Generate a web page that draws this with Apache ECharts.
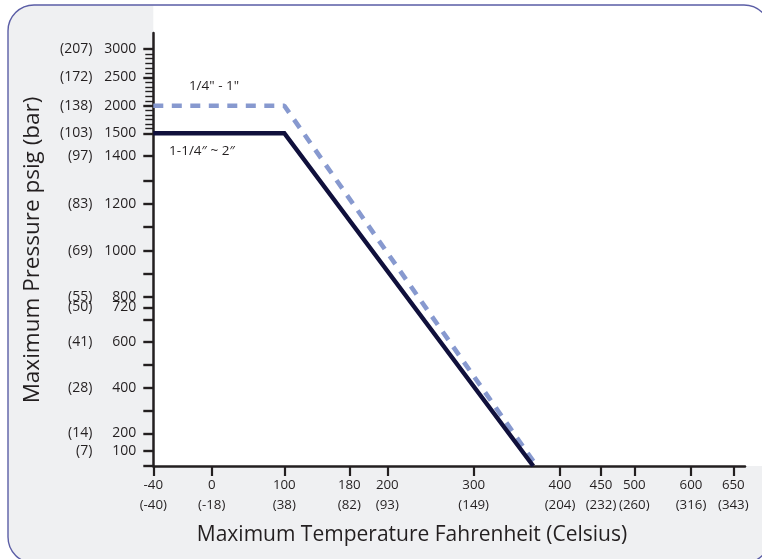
<!DOCTYPE html>
<html>
<head>
<meta charset="utf-8">
<script src="https://cdn.jsdelivr.net/npm/echarts@6/dist/echarts.min.js"></script>
<style>
html,body{margin:0;padding:0;background:#fff;}
#chart{width:762px;height:559px;}
</style>
</head>
<body>
<div id="chart"></div>
<script>
// ---------- data ----------
const tempF = [-40, 0, 100, 180, 200, 300, 400, 450, 500, 600, 650];
const tempC = ['-40', '-18', '38', '82', '93', '149', '204', '232', '260', '316', '343'];
const psiTicks = [0, 100, 200, 300, 400, 500, 600, 700, 720, 800, 900, 1000, 1100, 1200, 1300, 1400, 1500, 2000, 2500, 3000];
const barTicks = ['', '7', '14', '', '28', '', '41', '', '50', '55', '', '69', '', '83', '', '97', '103', '138', '172', '207'];
const psiLabelShown = [false, true, true, false, true, false, true, false, true, true, false, true, false, true, false, true, true, true, true, true];
const seriesSmallName = '1/4" - 1"';
const seriesSmall = [[-40, 2000], [100, 2000], [373, 0]];
const seriesLargeName = '1-1/4\u2033 ~ 2\u2033';
const seriesLarge = [[-40, 1500], [100, 1500], [369, 0]];

// ---------- non-uniform scale definition (axis knots, in axis units) ----------
const xKnotUnits = [0, 58.4, 131, 196, 234, 320.4, 406.7, 447.7, 481, 537.7, 580];
const yKnotUnits = [0, 15, 32.7, 55.3, 78.3, 101.7, 124.3, 146.7, 158.7, 169.3, 192, 215, 239.3, 262, 285, 310, 332.7, 360.3, 388.5, 417];

function interp(v, xs, us) {
  let i = 0;
  while (i < xs.length - 2 && v > xs[i + 1]) i++;
  const t = (v - xs[i]) / (xs[i + 1] - xs[i]);
  return us[i] + t * (us[i + 1] - us[i]);
}
const sx = v => interp(v, tempF, xKnotUnits);
const sy = v => interp(v, psiTicks, yKnotUnits);
const mapData = arr => arr.map(p => [sx(p[0]), sy(p[1])]);

const xTickUnits = tempF.map(sx);
const yTickUnits = psiTicks.map(sy);
const minorPsi = [];
[[1500, 2000], [2000, 2500], [2500, 3000]].forEach(([a, b]) => {
  for (let k = 1; k < 6; k++) minorPsi.push(a + (b - a) * k / 6);
});
const yMinorUnits = minorPsi.map(sy);

function idxOf(arr, v) {
  for (let i = 0; i < arr.length; i++) if (Math.abs(arr[i] - v) < 1e-6) return i;
  return -1;
}

const FONT = '"Open Sans", "Noto Sans", sans-serif';
const TXT = '#231f20';
const AXIS = '#231f20';
const FS = 14;

const chart = echarts.init(document.getElementById('chart'), null, {renderer: 'canvas'});
const option = {
  animation: false,
  backgroundColor: '#fff',
  textStyle: {fontFamily: FONT},
  grid: {left: 153.3, top: 33, right: 17, bottom: 93, containLabel: false, outerBoundsMode: 'none'},
  xAxis: {
    type: 'value', min: 0, max: 591.7,
    splitLine: {show: false},
    axisLine: {show: true, lineStyle: {color: AXIS, width: 2.5}},
    axisTick: {show: true, length: 10, lineStyle: {color: AXIS, width: 2.2}, customValues: xTickUnits},
    axisLabel: {
      show: true, margin: 9, color: TXT, fontSize: 13.3, fontFamily: FONT, lineHeight: 20,
      customValues: xTickUnits, hideOverlap: false,
      formatter: v => { const i = idxOf(xTickUnits, v); return i < 0 ? '' : tempF[i] + '\n(' + tempC[i] + ')'; }
    }
  },
  yAxis: [{
    type: 'value', min: 0, max: 433,
    splitLine: {show: false},
    axisLine: {show: true, lineStyle: {color: AXIS, width: 2.5}},
    axisTick: {show: true, length: 10, lineStyle: {color: AXIS, width: 2.4}, customValues: yTickUnits},
    axisLabel: {
      show: true, margin: 17, color: TXT, fontSize: FS, fontFamily: FONT,
      customValues: yTickUnits, hideOverlap: false,
      formatter: v => {
        const i = idxOf(yTickUnits, v);
        if (i < 0 || !psiLabelShown[i]) return '';
        return '{c|(' + barTicks[i] + ')}{p|' + psiTicks[i] + '}';
      },
      rich: {
        c: {width: 45, align: 'right', fontSize: FS, color: TXT, fontFamily: FONT},
        p: {width: 44, align: 'right', fontSize: FS, color: TXT, fontFamily: FONT}
      }
    }
  }, {
    type: 'value', min: 0, max: 433, position: 'left',
    splitLine: {show: false},
    axisLine: {show: false},
    axisLabel: {show: false},
    axisTick: {show: true, length: 8, lineStyle: {color: AXIS, width: 1.4}, customValues: yMinorUnits}
  }],
  series: [{
    name: seriesSmallName, type: 'line', data: mapData(seriesSmall),
    symbol: 'none', z: 3, clip: false,
    lineStyle: {color: '#8799cf', width: 4.6, type: [10, 8.5], cap: 'butt'}
  }, {
    name: seriesLargeName, type: 'line', data: mapData(seriesLarge),
    symbol: 'none', z: 4, clip: false,
    lineStyle: {color: '#10103c', width: 4.4, join: 'miter'}
  }],
  graphic: [
    {type: 'rect', z: -100, silent: true, shape: {x: 8, y: 5, width: 762, height: 558, r: 26}, style: {fill: '#eff0f2'}},
    {type: 'rect', z: -99, silent: true, shape: {x: 153.3, y: 5.5, width: 620, height: 460.5}, style: {fill: '#ffffff'}},
    {type: 'rect', z: -98, silent: true, shape: {x: 8, y: 5, width: 762, height: 558, r: 26}, style: {fill: 'none', stroke: '#5b5ea6', lineWidth: 1.4}},
    {type: 'text', z: 100, x: 412, y: 535, style: {text: 'Maximum Temperature Fahrenheit (Celsius)', font: '21px ' + FONT, fill: TXT, textAlign: 'center', textVerticalAlign: 'middle'}},
    {type: 'text', z: 100, x: 33, y: 250, rotation: Math.PI / 2, style: {text: 'Maximum Pressure psig (bar)', font: '22.5px ' + FONT, fill: TXT, textAlign: 'center', textVerticalAlign: 'middle'}},
    {type: 'text', z: 100, x: 214, y: 86, style: {text: seriesSmallName, font: '13.5px ' + FONT, fill: TXT, textAlign: 'center', textVerticalAlign: 'middle'}},
    {type: 'text', z: 100, x: 202, y: 151.5, style: {text: seriesLargeName, font: '13.5px ' + FONT, fill: TXT, textAlign: 'center', textVerticalAlign: 'middle'}}
  ]
};
chart.setOption(option);
</script>
</body>
</html>
